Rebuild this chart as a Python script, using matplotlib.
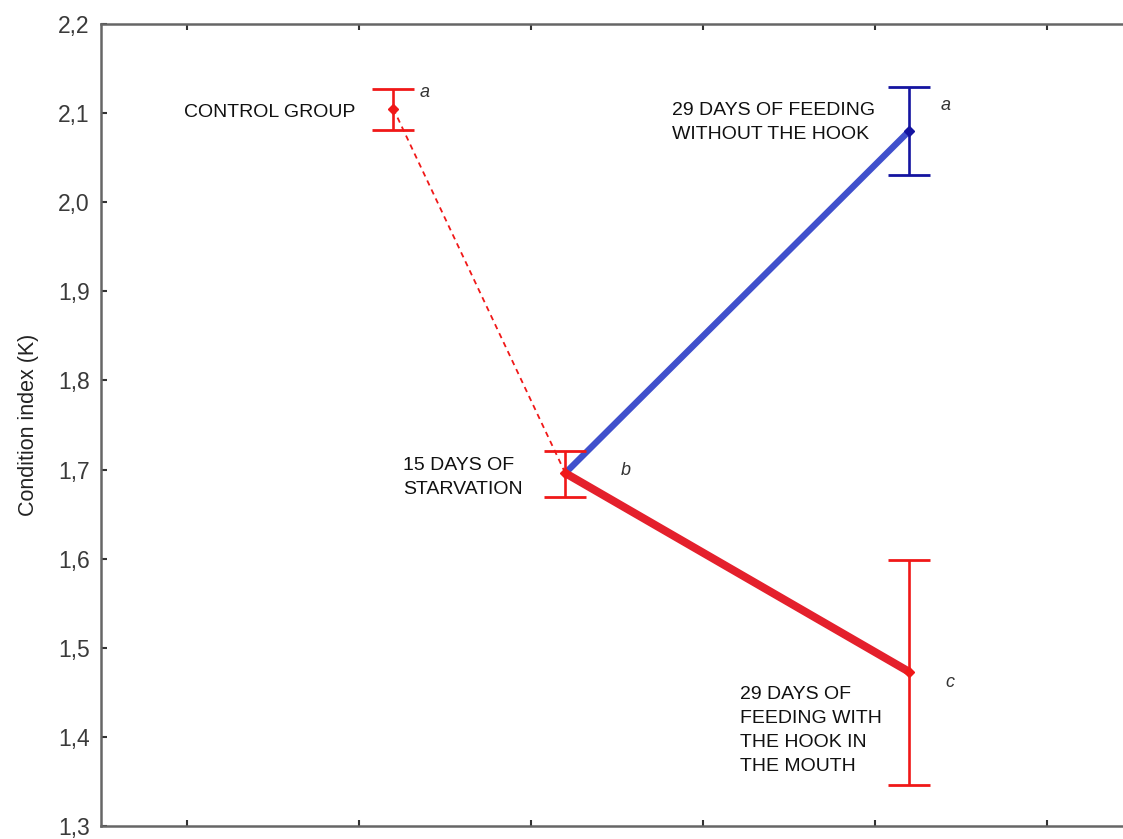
import matplotlib
matplotlib.use("Agg")
import matplotlib.pyplot as plt

plt.rcParams['font.family'] = ['Liberation Sans', 'DejaVu Sans']

# group positions on the x axis and their means / error limits
x_control, x_starv, x_feed = 1.2, 2.2, 4.2
control_mean, control_lo, control_hi = 2.105, 2.081, 2.127
starv_mean, starv_lo, starv_hi = 1.696, 1.669, 1.721
nohook_mean, nohook_lo, nohook_hi = 2.080, 2.031, 2.129
hook_mean, hook_lo, hook_hi = 1.473, 1.346, 1.599

y_ticks = [1.3, 1.4, 1.5, 1.6, 1.7, 1.8, 1.9, 2.0, 2.1, 2.2]
x_ticks = [0, 1, 2, 3, 4, 5]

red = '#f01818'
blue_line = '#4050cc'
red_line = '#e4202c'
navy = '#1414a0'

fig = plt.figure(figsize=(11.23, 8.39), dpi=100)
# the axes runs past the right edge of the figure
ax = fig.add_axes([0.0899, 0.0155, 0.9341, 0.9559])

# connecting lines
ax.plot([x_control, x_starv], [control_mean, starv_mean], color=red,
        lw=1.3, ls=(0, (3, 2.5)), zorder=2)
ax.plot([x_starv, x_feed], [starv_mean, nohook_mean], color=blue_line,
        lw=4.6, solid_capstyle='butt', zorder=3)
ax.plot([x_starv, x_feed], [starv_mean, hook_mean], color=red_line,
        lw=5.8, solid_capstyle='butt', zorder=3)

def errbar(x, mean, lo, hi, color):
    ax.errorbar([x], [mean], yerr=[[mean - lo], [hi - mean]], fmt='D',
                color=color, ms=5.5, elinewidth=1.9, capsize=15,
                capthick=2.0, zorder=4)

errbar(x_control, control_mean, control_lo, control_hi, red)
errbar(x_starv, starv_mean, starv_lo, starv_hi, red)
errbar(x_feed, nohook_mean, nohook_lo, nohook_hi, navy)
errbar(x_feed, hook_mean, hook_lo, hook_hi, red)

# group labels
lab = dict(fontsize=14, color='#111111', linespacing=1.55)
ax.text(0.977, 2.101, 'CONTROL GROUP', ha='right', va='center', **lab)
ax.text(2.82, 2.0894, '29 DAYS OF FEEDING\nWITHOUT THE HOOK', ha='left',
        va='center', **lab)
ax.text(1.256, 1.691, '15 DAYS OF\nSTARVATION', ha='left', va='center', **lab)
ax.text(3.215, 1.407, '29 DAYS OF\nFEEDING WITH\nTHE HOOK IN\nTHE MOUTH',
        ha='left', va='center', **lab)

sig = dict(fontsize=13, style='italic', color='#333333', ha='center', va='center')
ax.text(1.384, 2.1226, 'a', **sig)
ax.text(4.413, 2.109, 'a', **sig)
ax.text(2.552, 1.6994, 'b', **sig)
ax.text(4.436, 1.4615, 'c', **sig)

ax.set_xlim(-0.5, 5.6)
ax.set_ylim(1.3, 2.2)
ax.set_xticks(x_ticks)
ax.set_xticklabels([])
ax.set_yticks(y_ticks)
ax.set_yticklabels([f'{v:.1f}'.replace('.', ',') for v in y_ticks],
                   fontsize=16.5, color='#3a3a3a')
ax.tick_params(axis='both', direction='in', length=4, width=1.5,
               color='#333333', top=True, right=False, pad=8)
ax.set_ylabel('Condition index (K)', fontsize=15.5, color='#222222', labelpad=14)

for side in ['left', 'bottom', 'top']:
    ax.spines[side].set_color('#666666')
    ax.spines[side].set_linewidth(1.8)
ax.spines['right'].set_visible(False)

fig.savefig('out.png', dpi=100)
